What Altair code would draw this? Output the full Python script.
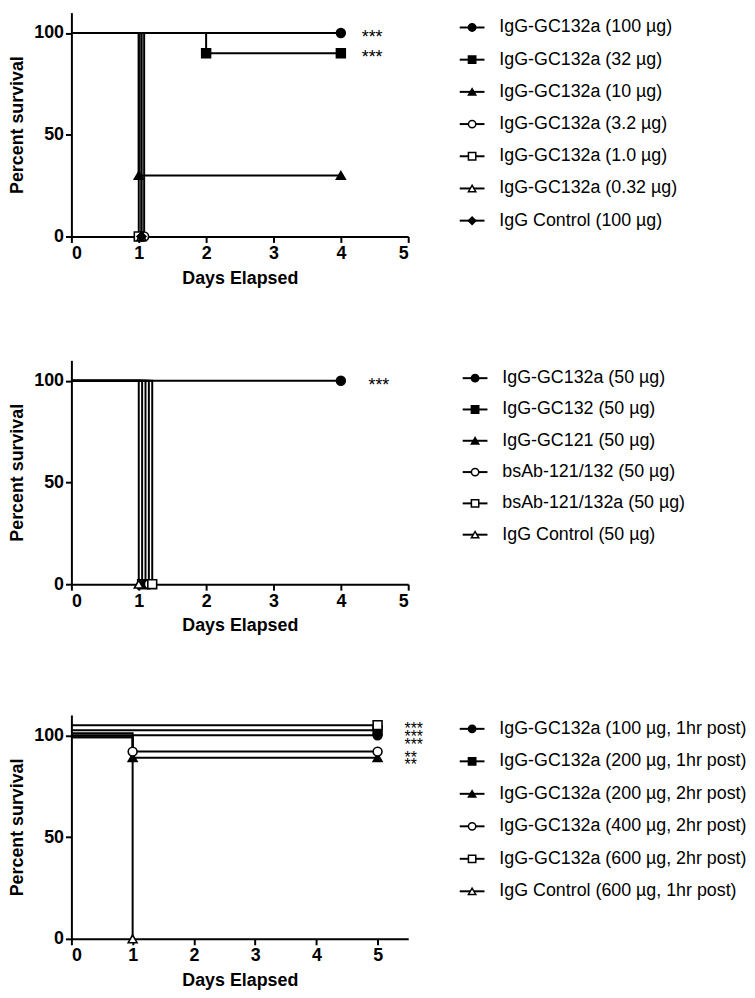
import altair as alt
import pandas as pd

FONT = "Liberation Sans"

# ---------------- Panel A ----------------
a_names = ["IgG-GC132a (100 µg)", "IgG-GC132a (32 µg)", "IgG-GC132a (10 µg)",
           "IgG-GC132a (3.2 µg)", "IgG-GC132a (1.0 µg)", "IgG-GC132a (0.32 µg)",
           "IgG Control (100 µg)"]
a_days = [[0, 4], [0, 2, 4], [0, 1, 4], [0, 1.08], [0, 1.0], [0, 1.04], [0, 1.04]]
a_surv = [[100, 100], [100, 90, 90], [100, 30, 30], [100, 0], [100, 0], [100, 0], [100, 0]]
a_shapes = ["circle", "square", "triangle-up", "circle", "square", "triangle-up", "diamond"]
a_fills = ["black", "black", "black", "white", "white", "white", "black"]
a_star_x = [4.31, 4.31]
a_star_y = [100, 90]
a_star_text = ["***", "***"]

# ---------------- Panel B ----------------
b_names = ["IgG-GC132a (50 µg)", "IgG-GC132 (50 µg)", "IgG-GC121 (50 µg)",
           "bsAb-121/132 (50 µg)", "bsAb-121/132a (50 µg)", "IgG Control (50 µg)"]
b_days = [[0, 4], [0, 1.05], [0, 1.10], [0, 1.15], [0, 1.20], [0, 1.0]]
b_surv = [[100, 100], [100, 0], [100, 0], [100, 0], [100, 0], [100, 0]]
b_shapes = ["circle", "square", "triangle-up", "circle", "square", "triangle-up"]
b_fills = ["black", "black", "black", "white", "white", "white"]
b_star_x = [4.41]
b_star_y = [100]
b_star_text = ["***"]

# ---------------- Panel C ----------------
c_names = ["IgG-GC132a (100 µg, 1hr post)", "IgG-GC132a (200 µg, 1hr post)",
           "IgG-GC132a (200 µg, 2hr post)", "IgG-GC132a (400 µg, 2hr post)",
           "IgG-GC132a (600 µg, 2hr post)", "IgG Control (600 µg, 1hr post)"]
c_days = [[0, 5], [0, 5], [0, 1, 5], [0, 1, 5], [0, 5], [0, 1]]
c_surv = [[100, 100], [102.5, 102.5], [99, 89, 89], [99, 92, 92], [105, 105], [101, 0]]
c_shapes = ["circle", "square", "triangle-up", "circle", "square", "triangle-up"]
c_fills = ["black", "black", "black", "white", "white", "white"]
c_star_x = [5.44, 5.44, 5.44, 5.44, 5.44]
c_star_y = [105, 101, 97, 90.8, 87.4]
c_star_text = ["***", "***", "***", "**", "**"]

TICKS = [0, 1, 2, 3, 4, 5]


def plot_panel(names, days, surv, shapes, fills, sx, sy, st, xmax, star_size):
    rows, mrows = [], []
    for n, ds, ss, sh, f in zip(names, days, surv, shapes, fills):
        for d, s in zip(ds, ss):
            rows.append({"name": n, "day": d, "surv": s})
        for d, s in zip(ds[1:], ss[1:]):
            mrows.append({"name": n, "day": d, "surv": s, "shape": sh, "fill": f})
    lines = pd.DataFrame(rows)
    marks = pd.DataFrame(mrows)
    stars = pd.DataFrame({"day": sx, "surv": sy, "txt": st})

    xs = alt.Scale(domain=[0, xmax], nice=False, zero=True)
    ys = alt.Scale(domain=[0, 110], nice=False)
    xax = alt.Axis(values=TICKS, title="Days Elapsed", format="d")
    yax = alt.Axis(values=[0, 50, 100], title="Percent survival")

    line = alt.Chart(lines).mark_line(interpolate="step-after", color="black",
                                      strokeWidth=2).encode(
        x=alt.X("day:Q", scale=xs, axis=xax),
        y=alt.Y("surv:Q", scale=ys, axis=yax),
        detail="name:N",
    )
    pts = alt.Chart(marks).mark_point(size=80, stroke="black", strokeWidth=1.6,
                                      opacity=1).encode(
        x=alt.X("day:Q", scale=xs),
        y=alt.Y("surv:Q", scale=ys),
        shape=alt.Shape("shape:N", scale=None),
        fill=alt.Fill("fill:N", scale=None),
    )
    txt = alt.Chart(stars).mark_text(align="left", baseline="alphabetic",
                                     dy=round(star_size * 0.57),
                                     fontSize=star_size, font=FONT, fill="black").encode(
        x=alt.X("day:Q", scale=xs),
        y=alt.Y("surv:Q", scale=ys),
        text="txt:N",
    )
    return alt.layer(line, pts, txt).properties(width=340, height=226)


def legend_panel(names, shapes, fills, yrange, x0, fs):
    df = pd.DataFrame({"name": names, "shape": shapes, "fill": fills})
    y = alt.Y("name:N", sort=names, axis=None,
              scale=alt.Scale(type="point", range=yrange, padding=0))
    rule = alt.Chart(df).mark_rule(color="black", strokeWidth=2).encode(
        x=alt.value(x0), x2=alt.value(x0 + 25), y=y)
    sym = alt.Chart(df).mark_point(size=55, stroke="black", strokeWidth=1.5,
                                   opacity=1).encode(
        x=alt.value(x0 + 12.5), y=y,
        shape=alt.Shape("shape:N", scale=None),
        fill=alt.Fill("fill:N", scale=None),
    )
    txt = alt.Chart(df).mark_text(align="left", baseline="middle", fontSize=fs,
                                  font=FONT, fill="black").encode(
        x=alt.value(x0 + 40), y=y, text="name:N")
    return alt.layer(rule, sym, txt).properties(width=300, height=226)


row1 = alt.hconcat(
    plot_panel(a_names, a_days, a_surv, a_shapes, a_fills, a_star_x, a_star_y, a_star_text, 5, 18),
    legend_panel(a_names, a_shapes, a_fills, [15, 210], 32, 18),
    spacing=20, bounds="flush")
row2 = alt.hconcat(
    plot_panel(b_names, b_days, b_surv, b_shapes, b_fills, b_star_x, b_star_y, b_star_text, 5, 18),
    legend_panel(b_names, b_shapes, b_fills, [18, 176], 35, 18),
    spacing=20, bounds="flush")
row3 = alt.hconcat(
    plot_panel(c_names, c_days, c_surv, c_shapes, c_fills, c_star_x, c_star_y, c_star_text, 5.5, 16),
    legend_panel(c_names, c_shapes, c_fills, [14, 178], 32, 18),
    spacing=20, bounds="flush")

chart = alt.vconcat(
    alt.vconcat(row1, row2, spacing=74),
    row3, spacing=81,
).properties(padding=0).configure_axis(
    domainColor="black", domainWidth=2, tickColor="black", tickWidth=2, tickSize=6,
    labelFont=FONT, labelFontSize=18, labelFontWeight="bold", labelColor="black",
    titleFont=FONT, titleFontSize=18, titleFontWeight="bold", titleColor="black",
    grid=False, labelPadding=2, titlePadding=7,
).configure_view(stroke=None)

chart.save("out.html", embed_options={"renderer": "svg", "actions": False})
